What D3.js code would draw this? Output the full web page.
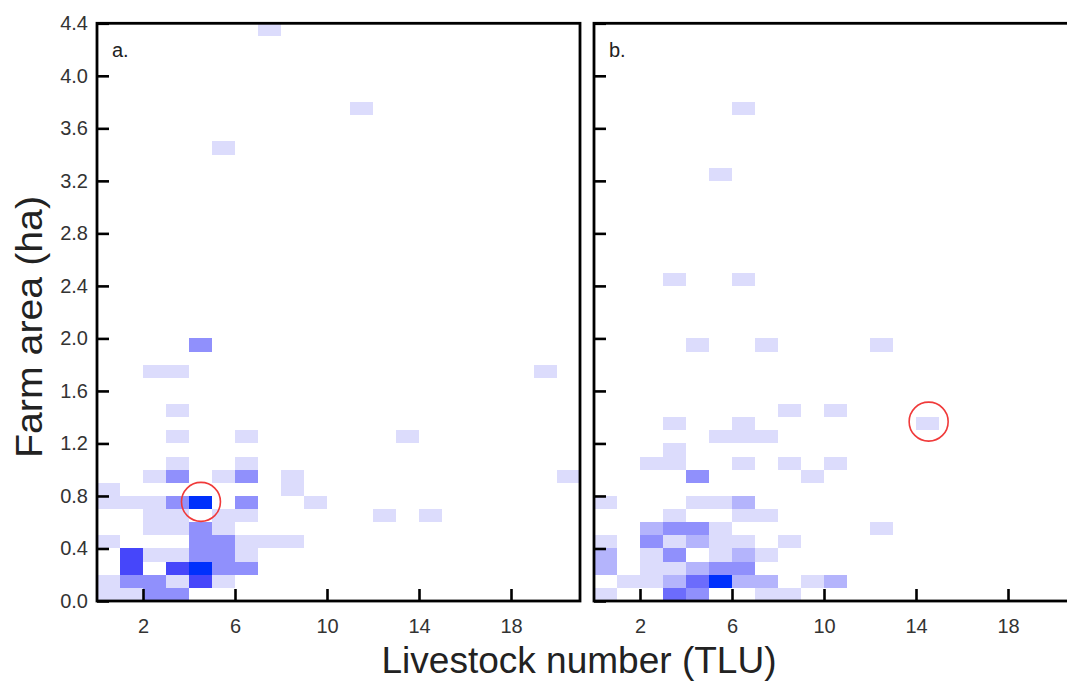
<!DOCTYPE html>
<html><head><meta charset="utf-8">
<script src="https://cdn.jsdelivr.net/npm/d3@7"></script>
<style>
body{margin:0;background:#fff}
svg{display:block}
text{font-family:"Liberation Sans",Arial,Helvetica,sans-serif}
</style></head>
<body><svg id="chart" width="1067" height="682"></svg>
<script>
// ---- data: [TLU bin start, farm-area bin start (ha), density level] ----
const cellsA = [
  [0,0.0,1],[1,0.0,1],[2,0.0,3],[3,0.0,3],
  [0,0.1,1],[1,0.1,3],[2,0.1,3],[3,0.1,1],[4,0.1,5],[5,0.1,1],
  [1,0.2,5],[3,0.2,5],[4,0.2,7],[5,0.2,3],[6,0.2,3],
  [1,0.3,5],[2,0.3,1],[3,0.3,1],[4,0.3,3],[5,0.3,3],[6,0.3,1],
  [0,0.4,1],[4,0.4,3],[5,0.4,3],[6,0.4,1],[7,0.4,1],[8,0.4,1],
  [2,0.5,1],[3,0.5,1],[4,0.5,3],[5,0.5,1],
  [2,0.6,1],[3,0.6,1],[5,0.6,1],[6,0.6,1],[12,0.6,1],[14,0.6,1],
  [0,0.7,1],[1,0.7,1],[2,0.7,1],[3,0.7,3],[4,0.7,7],[6,0.7,3],[9,0.7,1],
  [0,0.8,1],[8,0.8,1],
  [2,0.9,1],[3,0.9,3],[5,0.9,1],[6,0.9,3],[8,0.9,1],[20,0.9,1],
  [3,1.0,1],[6,1.0,1],
  [3,1.2,1],[6,1.2,1],[13,1.2,1],
  [3,1.4,1],
  [2,1.7,1],[3,1.7,1],[19,1.7,1],
  [4,1.9,3],
  [5,3.4,1],
  [11,3.7,1],
  [7,4.3,1]
];
const cellsB = [
  [0,0.0,1],[3,0.0,4],[4,0.0,3],[7,0.0,1],[8,0.0,1],
  [1,0.1,1],[2,0.1,1],[3,0.1,2],[4,0.1,4],[5,0.1,7],[6,0.1,2],[7,0.1,2],[9,0.1,1],[10,0.1,2],
  [0,0.2,2],[2,0.2,1],[3,0.2,1],[4,0.2,2],[5,0.2,3],[6,0.2,3],
  [0,0.3,2],[2,0.3,1],[3,0.3,3],[5,0.3,1],[6,0.3,2],[7,0.3,1],
  [0,0.4,1],[2,0.4,3],[3,0.4,1],[4,0.4,2],[5,0.4,1],[6,0.4,1],[8,0.4,1],
  [2,0.5,2],[3,0.5,3],[4,0.5,3],[5,0.5,1],[12,0.5,1],
  [3,0.6,1],[6,0.6,1],[7,0.6,1],
  [0,0.7,1],[4,0.7,1],[5,0.7,1],[6,0.7,2],
  [4,0.9,3],[9,0.9,1],
  [2,1.0,1],[3,1.0,1],[6,1.0,1],[8,1.0,1],[10,1.0,1],
  [3,1.1,1],
  [5,1.2,1],[6,1.2,1],[7,1.2,1],
  [3,1.3,1],[6,1.3,1],[14,1.3,1],
  [8,1.4,1],[10,1.4,1],
  [4,1.9,1],[7,1.9,1],[12,1.9,1],
  [3,2.4,1],[6,2.4,1],
  [5,3.2,1],
  [6,3.7,1]
];
const highlightA = [4.52, 0.755];
const highlightB = [14.55, 1.366];
const xTicks = [2, 6, 10, 14, 18];
const yTicks = [0, 0.4, 0.8, 1.2, 1.6, 2.0, 2.4, 2.8, 3.2, 3.6, 4.0, 4.4];
const levels = [1,2,3,4,5,6,7];
const levelColors = ["#dcdcfc","#b4b4fc","#9090fc","#6c6cfc","#4646fa","#2424fc","#0030fc"];
const panelLabels = ["a.", "b."];
const xTitle = "Livestock number (TLU)";
const yTitle = "Farm area (ha)";
const binW = 1, binH = 0.1;

// ---- drawing ----
const svg = d3.select("#chart");
const y = d3.scaleLinear().domain([0, 4.4]).range([601, 23.3]);
const color = d3.scaleOrdinal().domain(levels).range(levelColors);

const panels = [
  {cells: cellsA, hl: highlightA, x: d3.scaleLinear().domain([0,21]).range([97,580]), label: panelLabels[0], showY: true},
  {cells: cellsB, hl: highlightB, x: d3.scaleLinear().domain([0,21]).range([594,1077]), label: panelLabels[1], showY: false}
];

panels.forEach((p, i) => {
  const g = svg.append("g");
  const [x0, x1] = p.x.range();
  g.append("clipPath").attr("id", "clip"+i).append("rect")
    .attr("x", x0).attr("y", y(4.4)).attr("width", x1-x0).attr("height", y(0)-y(4.4));
  g.append("g").attr("clip-path", `url(#clip${i})`)
    .selectAll("rect").data(p.cells).join("rect")
    .attr("x", d => p.x(d[0]))
    .attr("y", d => y(d[1]+binH))
    .attr("width", d => p.x(d[0]+binW) - p.x(d[0]))
    .attr("height", d => y(d[1]) - y(d[1]+binH))
    .attr("fill", d => color(d[2]))
    .attr("shape-rendering", "crispEdges");

  // highlight circle
  g.append("circle").attr("cx", p.x(p.hl[0])).attr("cy", y(p.hl[1])).attr("r", 19.5)
    .attr("fill", "none").attr("stroke", "#f03a3a").attr("stroke-width", 1.6);

  // y axis
  const ya = g.append("g").attr("transform", `translate(${x0},0)`)
    .call(d3.axisLeft(y).tickValues(yTicks).tickSizeInner(-12).tickSizeOuter(0).tickPadding(9)
      .tickFormat(p.showY ? d3.format(".1f") : () => ""));
  ya.select(".domain").remove();
  ya.selectAll(".tick line").attr("stroke", "#000").attr("stroke-width", 2.6);
  ya.selectAll(".tick text").attr("font-size", 20).attr("fill", "#333")
    .style("font-family", '"Liberation Sans",Arial,sans-serif');

  // x axis
  const xa = g.append("g").attr("transform", `translate(0,${y(0)})`)
    .call(d3.axisBottom(p.x).tickValues(xTicks).tickSizeInner(-12).tickSizeOuter(0).tickPadding(18));
  xa.select(".domain").remove();
  xa.selectAll(".tick line").attr("stroke", "#000").attr("stroke-width", 2.6);
  xa.selectAll(".tick text").attr("font-size", 20).attr("fill", "#333")
    .style("font-family", '"Liberation Sans",Arial,sans-serif');

  // frame
  g.append("rect").attr("x", x0).attr("y", y(4.4)).attr("width", x1-x0).attr("height", y(0)-y(4.4))
    .attr("fill", "none").attr("stroke", "#000").attr("stroke-width", 2.8);

  g.append("text").attr("x", x0+15).attr("y", 57).attr("font-size", 20).attr("fill", "#222").text(p.label);
});

svg.append("text").attr("x", 579).attr("y", 673).attr("text-anchor", "middle")
  .attr("font-size", 36).attr("fill", "#222")
  .attr("textLength", 395).attr("lengthAdjust", "spacingAndGlyphs").text(xTitle);
svg.append("text").attr("transform", "translate(42,327) rotate(-90)").attr("text-anchor", "middle")
  .attr("font-size", 37).attr("fill", "#222")
  .attr("textLength", 262).attr("lengthAdjust", "spacingAndGlyphs").text(yTitle);
</script></body></html>
